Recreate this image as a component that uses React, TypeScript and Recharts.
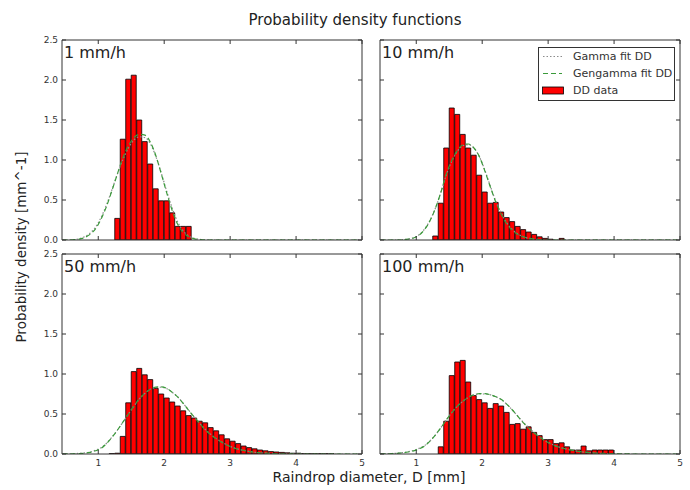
import { ComposedChart, Bar, Line, XAxis, YAxis, Legend } from 'recharts';

// bin centres of the 1/12 mm diameter classes shown on the axis
const diameters = [
  0.4583, 0.5417, 0.625, 0.7083, 0.7917, 0.875, 0.9583, 1.0417, 1.125, 1.2083,
  1.2917, 1.375, 1.4583, 1.5417, 1.625, 1.7083, 1.7917, 1.875, 1.9583, 2.0417,
  2.125, 2.2083, 2.2917, 2.375, 2.4583, 2.5417, 2.625, 2.7083, 2.7917, 2.875,
  2.9583, 3.0417, 3.125, 3.2083, 3.2917, 3.375, 3.4583, 3.5417, 3.625, 3.7083,
  3.7917, 3.875, 3.9583, 4.0417, 4.125, 4.2083, 4.2917, 4.375, 4.4583, 4.5417,
  4.625, 4.7083, 4.7917, 4.875, 4.9583,
];

const xTicks = [1, 2, 3, 4, 5];
const yTicks = [0, 0.5, 1, 1.5, 2, 2.5];

// histogram heights, the first value belongs to the bin centred at *From
const dd1 = [0.27, 1.26, 2.01, 2.06, 1.5, 1.23, 0.95, 0.64, 0.49, 0.49, 0.34, 0.17, 0.17, 0.17];
const dd1From = 1.2917;
const dd10 = [
  0.05, 0.46, 1.15, 1.65, 1.57, 1.32, 1.15, 1.06, 0.81, 0.6, 0.46, 0.47, 0.35, 0.28, 0.23, 0.17,
  0.13, 0.1, 0.07, 0.04, 0.02, 0.01, null, 0.02,
];
const dd10From = 1.2917;
const dd50 = [
  0.005, 0.01, 0.22, 0.64, 1.03, 1.07, 0.99, 0.93, 0.82, 0.75, 0.7, 0.65, 0.6, 0.54, 0.48, 0.45,
  0.41, 0.39, 0.33, 0.29, 0.24, 0.19, 0.16, 0.13, 0.1, 0.08, 0.065, 0.05, 0.04, 0.03, 0.025, 0.02,
  0.015, 0.01, 0.01, 0.005, 0.005, 0.005, 0.004, 0.004, 0.003,
];
const dd50From = 1.2083;
const dd100 = [
  0.09, 0.41, 0.98, 1.15, 1.17, 0.9, 0.73, 0.68, 0.64, 0.57, 0.63, 0.6, 0.52, 0.37, 0.38, 0.31,
  0.34, 0.27, 0.23, 0.18, 0.18, 0.13, 0.14, 0.09, 0.05, 0.05, 0.1, 0.04, 0.05, 0.05, 0.05, 0.05,
];
const dd100From = 1.375;

// fitted pdfs on the same grid (missing tail = 0)
const gamma1 = [
  0, 0, 0.005, 0.015, 0.04, 0.085, 0.16, 0.28, 0.44, 0.63, 0.83, 1.01, 1.15, 1.25, 1.29, 1.28,
  1.2, 1.04, 0.83, 0.6, 0.39, 0.22, 0.11, 0.05, 0.02, 0.007, 0.002,
];
const gengamma1 = [
  0, 0, 0.003, 0.01, 0.03, 0.07, 0.14, 0.26, 0.42, 0.62, 0.83, 1.03, 1.18, 1.28, 1.32, 1.31,
  1.22, 1.05, 0.82, 0.58, 0.36, 0.19, 0.09, 0.04, 0.015, 0.005,
];
const gamma10 = [
  0, 0, 0, 0.001, 0.004, 0.012, 0.028, 0.065, 0.135, 0.245, 0.4, 0.6, 0.82, 0.99, 1.11, 1.18,
  1.19, 1.15, 1.04, 0.87, 0.67, 0.48, 0.33, 0.21, 0.13, 0.075, 0.04, 0.02, 0.01, 0.005,
];
const gengamma10 = [
  0, 0, 0, 0, 0.003, 0.01, 0.025, 0.06, 0.13, 0.24, 0.4, 0.6, 0.83, 1.0, 1.12, 1.19,
  1.2, 1.15, 1.04, 0.86, 0.66, 0.47, 0.32, 0.2, 0.12, 0.07, 0.04, 0.02, 0.01, 0.005,
];
const gamma50 = [
  0.001, 0.002, 0.004, 0.008, 0.014, 0.026, 0.046, 0.078, 0.135, 0.21, 0.3, 0.4, 0.5, 0.6, 0.69,
  0.76, 0.81, 0.83, 0.835, 0.815, 0.77, 0.71, 0.63, 0.545, 0.46, 0.38, 0.305, 0.245, 0.19, 0.15,
  0.11, 0.082, 0.06, 0.045, 0.032, 0.022, 0.015, 0.01, 0.007, 0.005, 0.003, 0.002, 0.001,
];
const gengamma50 = [
  0, 0.001, 0.002, 0.005, 0.01, 0.02, 0.04, 0.07, 0.13, 0.21, 0.3, 0.4, 0.5, 0.6, 0.69,
  0.76, 0.81, 0.835, 0.84, 0.82, 0.77, 0.71, 0.63, 0.54, 0.46, 0.38, 0.3, 0.24, 0.19, 0.145,
  0.11, 0.08, 0.06, 0.045, 0.03, 0.02, 0.015, 0.01, 0.007, 0.005, 0.003, 0.002, 0.001,
];
const gamma100 = [
  0.002, 0.003, 0.006, 0.01, 0.018, 0.028, 0.044, 0.07, 0.105, 0.165, 0.24, 0.33, 0.43, 0.52,
  0.6, 0.66, 0.71, 0.74, 0.75, 0.75, 0.74, 0.715, 0.68, 0.62, 0.55, 0.47, 0.395, 0.325, 0.265,
  0.21, 0.165, 0.128, 0.098, 0.076, 0.06, 0.045, 0.033, 0.024, 0.017, 0.012, 0.008, 0.006,
  0.004, 0.003, 0.002, 0.001,
];
const gengamma100 = [
  0.001, 0.002, 0.004, 0.008, 0.015, 0.025, 0.04, 0.065, 0.1, 0.16, 0.24, 0.33, 0.43, 0.52,
  0.6, 0.66, 0.71, 0.74, 0.755, 0.755, 0.74, 0.715, 0.68, 0.62, 0.55, 0.47, 0.39, 0.32, 0.26,
  0.21, 0.16, 0.125, 0.095, 0.075, 0.06, 0.045, 0.033, 0.024, 0.017, 0.012, 0.008, 0.006,
  0.004, 0.003, 0.002, 0.001,
];

function buildRows(dd: (number | null)[], from: number, gamma: number[], gengamma: number[]) {
  const i0 = diameters.indexOf(from);
  return diameters.map((d, i) => ({
    d,
    dd: i >= i0 && i - i0 < dd.length ? dd[i - i0] : null,
    gamma: gamma[i] ?? 0,
    gengamma: gengamma[i] ?? 0,
  }));
}

const PLOT_W = 300;
const PLOT_H = 200;
const LEFT_W = 40;
const RIGHT_W = 5;
const TOP_H = 5;
const BOTTOM_H = 20;
const GAP = 5;
const TICK = 4;
const AXIS_COLOR = '#333';

const styles = {
  gamma: { stroke: '#8c8c8c', dash: '1.5 2' },
  gengamma: { stroke: '#3a9a3a', dash: '5 3' },
};

const panels = [
  { label: '1 mm/h', rows: buildRows(dd1, dd1From, gamma1, gengamma1), px: 62, py: 40 },
  { label: '10 mm/h', rows: buildRows(dd10, dd10From, gamma10, gengamma10), px: 380, py: 40 },
  { label: '50 mm/h', rows: buildRows(dd50, dd50From, gamma50, gengamma50), px: 62, py: 254 },
  { label: '100 mm/h', rows: buildRows(dd100, dd100From, gamma100, gengamma100), px: 380, py: 254 },
];

function makeTick(side: string, withLabel: boolean) {
  return (p: any) => {
    const { x, y, payload } = p;
    const txt = { fontSize: 9, fill: '#333' };
    if (side === 'bottom') {
      const ay = y - GAP;
      return (
        <g>
          <line x1={x} x2={x} y1={ay} y2={ay - TICK} stroke={AXIS_COLOR} />
          {withLabel && (
            <text x={x} y={ay + 12} textAnchor="middle" {...txt}>
              {payload.value}
            </text>
          )}
        </g>
      );
    }
    if (side === 'top') {
      const ay = y + GAP;
      return <line x1={x} x2={x} y1={ay} y2={ay + TICK} stroke={AXIS_COLOR} />;
    }
    if (side === 'left') {
      const ax = x + GAP;
      return (
        <g>
          <line x1={ax} x2={ax + TICK} y1={y} y2={y} stroke={AXIS_COLOR} />
          {withLabel && (
            <text x={ax - 4} y={y + 3} textAnchor="end" {...txt}>
              {Number(payload.value).toFixed(1)}
            </text>
          )}
        </g>
      );
    }
    const ax = x - GAP;
    return <line x1={ax} x2={ax - TICK} y1={y} y2={y} stroke={AXIS_COLOR} />;
  };
}

const legendOrder = ['Gamma fit DD', 'Gengamma fit DD', 'DD data'];

function LegendBox({ payload }: any) {
  const items = [...(payload ?? [])].sort(
    (a: any, b: any) => legendOrder.indexOf(a.value) - legendOrder.indexOf(b.value),
  );
  return (
    <div
      style={{
        width: 137,
        height: 54,
        boxSizing: 'border-box',
        border: '1px solid #333',
        background: '#fff',
      }}
    >
      {items.map((it: any) => {
        const st = (styles as any)[it.dataKey];
        return (
          <div key={it.value} style={{ height: 17, display: 'flex', alignItems: 'center' }}>
            <svg width={34} height={17}>
              {st ? (
                <line x1={4} x2={23} y1={8.5} y2={8.5} stroke={st.stroke} strokeDasharray={st.dash} strokeWidth={1.2} />
              ) : (
                <rect x={3.5} y={5} width={21} height={7} fill="#ff0000" stroke="#000" strokeWidth={0.8} />
              )}
            </svg>
            <span style={{ fontSize: 11, color: '#333', lineHeight: '17px' }}>{it.value}</span>
          </div>
        );
      })}
    </div>
  );
}

function Panel({ rows, showX, showY, legend }: any) {
  return (
    <ComposedChart
      width={LEFT_W + PLOT_W + RIGHT_W}
      height={TOP_H + PLOT_H + BOTTOM_H}
      data={rows}
      margin={{ top: 0, right: 0, bottom: 0, left: 0 }}
      barCategoryGap={0}
      barGap={0}
    >
      <XAxis
        xAxisId="b"
        dataKey="d"
        type="number"
        domain={[0.45, 5]}
        ticks={xTicks}
        allowDataOverflow
        interval={0}
        height={BOTTOM_H}
        tickSize={0}
        tickMargin={GAP}
        tickLine={false}
        stroke={AXIS_COLOR}
        tick={makeTick('bottom', showX)}
      />
      <XAxis
        xAxisId="t"
        orientation="top"
        dataKey="d"
        type="number"
        domain={[0.45, 5]}
        ticks={xTicks}
        allowDataOverflow
        interval={0}
        height={TOP_H}
        tickSize={0}
        tickMargin={GAP}
        tickLine={false}
        stroke={AXIS_COLOR}
        tick={makeTick('top', false)}
      />
      <YAxis
        yAxisId="l"
        type="number"
        domain={[0, 2.5]}
        ticks={yTicks}
        allowDataOverflow
        interval={0}
        width={LEFT_W}
        tickSize={0}
        tickMargin={GAP}
        tickLine={false}
        stroke={AXIS_COLOR}
        tick={makeTick('left', showY)}
      />
      <YAxis
        yAxisId="r"
        orientation="right"
        type="number"
        domain={[0, 2.5]}
        ticks={yTicks}
        allowDataOverflow
        interval={0}
        width={RIGHT_W}
        tickSize={0}
        tickMargin={GAP}
        tickLine={false}
        stroke={AXIS_COLOR}
        tick={makeTick('right', false)}
      />
      <Bar
        xAxisId="b"
        yAxisId="l"
        dataKey="dd"
        name="DD data"
        fill="#ff0000"
        stroke="#000"
        strokeWidth={0.8}
        isAnimationActive={false}
      />
      <Line
        xAxisId="b"
        yAxisId="l"
        dataKey="gamma"
        name="Gamma fit DD"
        type="monotone"
        stroke={styles.gamma.stroke}
        strokeDasharray={styles.gamma.dash}
        strokeWidth={1.2}
        dot={false}
        isAnimationActive={false}
      />
      <Line
        xAxisId="b"
        yAxisId="l"
        dataKey="gengamma"
        name="Gengamma fit DD"
        type="monotone"
        stroke={styles.gengamma.stroke}
        strokeDasharray={styles.gengamma.dash}
        strokeWidth={1.2}
        dot={false}
        isAnimationActive={false}
      />
      {legend && (
        <Legend
          layout="horizontal"
          verticalAlign="middle"
          align="center"
          wrapperStyle={{ top: 12, left: 198, width: 137, height: 54 }}
          content={<LegendBox />}
        />
      )}
    </ComposedChart>
  );
}

export default function App() {
  return (
    <div
      style={{
        position: 'absolute',
        left: 0,
        top: 0,
        width: 690,
        height: 490,
        overflow: 'hidden',
        background: '#fff',
        fontFamily: 'DejaVu Sans, sans-serif',
      }}
    >
      {panels.map((p, i) => (
        <div key={p.label} style={{ position: 'absolute', left: p.px - LEFT_W, top: p.py - TOP_H }}>
          <Panel rows={p.rows} showX={i >= 2} showY={i % 2 === 0} legend={i === 1} />
        </div>
      ))}
      <svg
        width={690}
        height={490}
        style={{ position: 'absolute', left: 0, top: 0, pointerEvents: 'none' }}
      >
        <text x={355} y={25} textAnchor="middle" fontSize={15} fill="#222">
          Probability density functions
        </text>
        <text x={369} y={482} textAnchor="middle" fontSize={14} fill="#222">
          Raindrop diameter, D [mm]
        </text>
        <text
          x={26}
          y={247}
          textAnchor="middle"
          fontSize={13.5}
          fill="#222"
          transform="rotate(-90 26 247)"
        >
          Probability density [mm^-1]
        </text>
        {panels.map((p) => (
          <text key={p.label} x={p.px + 2} y={p.py + 18} fontSize={16} fill="#222">
            {p.label}
          </text>
        ))}
      </svg>
    </div>
  );
}
